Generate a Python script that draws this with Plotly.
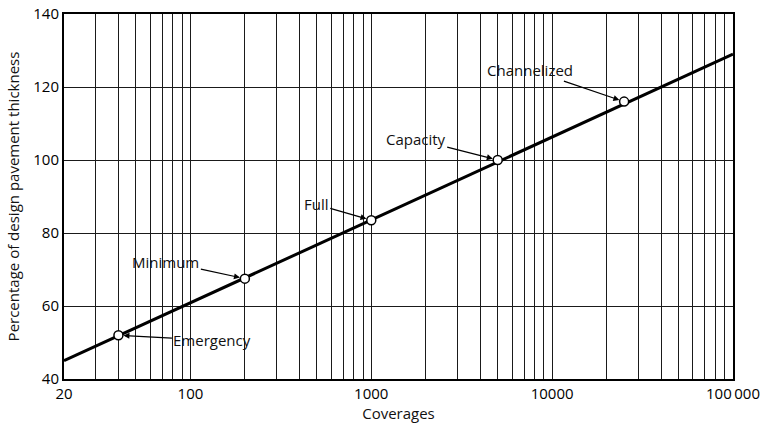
import math
import plotly.graph_objects as go

# Data
line_x = [20, 100000]
line_y = [45, 129]
point_names = ["Emergency", "Minimum", "Full", "Capacity", "Channelized"]
point_x = [40, 200, 1000, 5000, 25000]
point_y = [52, 67.5, 83.5, 100, 116]
x_major_vals = [20, 100, 1000, 10000, 100000]
x_major_text = ["20", "100", "1000", "10000", "100\u2009000"]
x_minor_vals = [v * m for m in [10, 100, 1000, 10000] for v in range(2, 10) if v * m > 20]
y_tickvals = [40, 60, 80, 100, 120, 140]

# label offsets (pixels) for annotations
ann_offsets = {"Emergency": (94, 5), "Minimum": (-79, -17), "Full": (-55, -16),
               "Capacity": (-82, -21), "Channelized": (-94, -32)}

FONT = "Open Sans, Liberation Sans, sans-serif"

fig = go.Figure()
fig.add_trace(go.Scatter(x=line_x, y=line_y, mode="lines",
                         line=dict(color="black", width=3), showlegend=False,
                         hoverinfo="skip"))
fig.add_trace(go.Scatter(x=point_x, y=point_y, mode="markers",
                         marker=dict(color="white", size=9,
                                     line=dict(color="black", width=1.5)),
                         showlegend=False, text=point_names))

for name, x, y in zip(point_names, point_x, point_y):
    ax, ay = ann_offsets[name]
    fig.add_annotation(x=math.log10(x), y=y, xref="x", yref="y",
                       text=name, showarrow=True, ax=ax, ay=ay,
                       arrowhead=2, arrowsize=1, arrowwidth=1.2,
                       arrowcolor="black", standoff=5,
                       font=dict(family=FONT, size=15, color="#111"))

fig.update_xaxes(type="log", range=[math.log10(20), 5],
                 tickmode="array", tickvals=x_major_vals, ticktext=x_major_text,
                 showgrid=True, gridcolor="#1a1a1a", gridwidth=1,
                 minor=dict(tickmode="array", tickvals=x_minor_vals,
                            showgrid=True, gridcolor="#1a1a1a", gridwidth=1, ticks=""),
                 showline=True, linecolor="black", linewidth=2, mirror=True,
                 ticks="", zeroline=False, automargin=False,
                 tickfont=dict(family=FONT, size=15, color="black"),
                 title=dict(text="Coverages", standoff=6,
                            font=dict(family=FONT, size=15, color="#111")))
fig.update_yaxes(range=[40, 140], tickvals=y_tickvals,
                 showgrid=True, gridcolor="#1a1a1a", gridwidth=1.2,
                 showline=True, linecolor="black", linewidth=2, mirror=True,
                 ticks="", zeroline=False, automargin=False,
                 tickfont=dict(family=FONT, size=15, color="black"),
                 title=dict(text="Percentage of design pavement thickness", standoff=10,
                            font=dict(family=FONT, size=15, color="#111")))

fig.update_layout(width=764, height=429,
                  margin=dict(l=64, r=31, t=14, b=50),
                  plot_bgcolor="white", paper_bgcolor="white",
                  showlegend=False)

fig.write_html("out.html", config={"displayModeBar": False},
               post_script="document.body.style.margin='0';document.body.style.overflow='hidden';")
